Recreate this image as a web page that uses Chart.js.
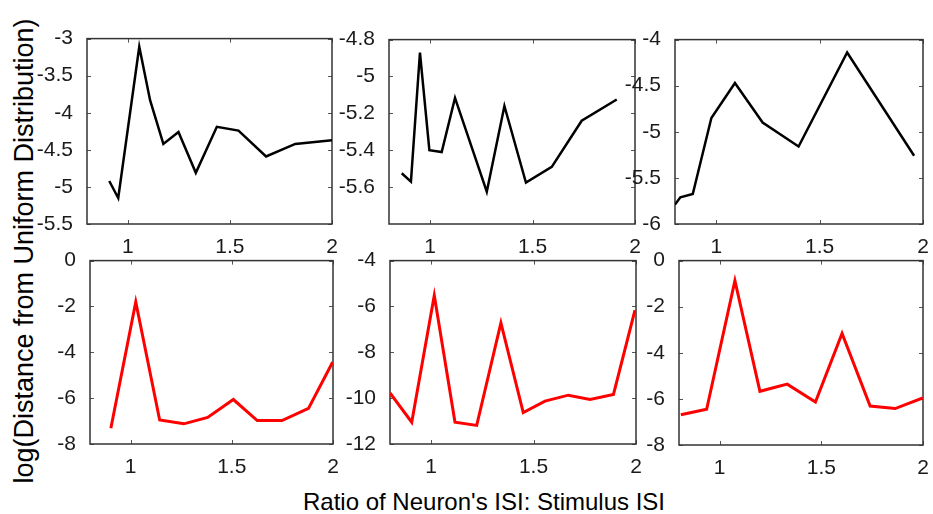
<!DOCTYPE html>
<html>
<head>
<meta charset="utf-8">
<script src="https://cdn.jsdelivr.net/npm/chart.js@4"></script>
<style>
  body { margin: 0; background: #fff; }
  #wrap { position: relative; width: 933px; height: 514px; overflow: hidden; font-family: 'Liberation Sans', Arial, sans-serif; }
  canvas { position: absolute; }
  .ylab { position: absolute; left: 24px; top: 251px; transform: translate(-50%, -50%) rotate(-90deg); font-size: 27px; white-space: nowrap; color: #000; }
  .xlab { position: absolute; left: 484px; top: 502px; transform: translate(-50%, -50%); font-size: 24px; white-space: nowrap; color: #000; }
</style>
</head>
<body>
<div id="wrap">
  <div class="ylab">log(Distance from Uniform Distribution)</div>
  <div class="xlab">Ratio of Neuron's ISI: Stimulus ISI</div>
</div>
<script>
// panel data
const xTicks = [1, 1.5, 2];

const x1 = [0.909, 0.953, 1.056, 1.109, 1.174, 1.248, 1.333, 1.436, 1.542, 1.677, 1.82, 2.0];
const y1 = [-4.92, -5.15, -3.11, -3.83, -4.42, -4.26, -4.81, -4.19, -4.24, -4.59, -4.42, -4.37];
const yTicks1 = [-5.5, -5, -4.5, -4, -3.5, -3];

const x2 = [0.862, 0.907, 0.951, 0.997, 1.057, 1.122, 1.277, 1.363, 1.468, 1.594, 1.74, 1.911];
const y2 = [-5.525, -5.57, -4.87, -5.40, -5.41, -5.116, -5.625, -5.16, -5.575, -5.49, -5.24, -5.125];
const yTicks2 = [-5.6, -5.4, -5.2, -5, -4.8];

const x3 = [0.8, 0.826, 0.886, 0.976, 1.09, 1.224, 1.398, 1.633, 1.957];
const y3 = [-5.79, -5.71, -5.675, -4.85, -4.47, -4.9, -5.16, -4.14, -5.26];
const yTicks3 = [-6, -5.5, -5, -4.5, -4];

const x4 = [0.903, 1.026, 1.144, 1.263, 1.381, 1.508, 1.626, 1.748, 1.879, 1.998];
const y4 = [-7.31, -1.80, -6.95, -7.12, -6.84, -6.06, -6.98, -6.98, -6.45, -4.43];
const yTicks4 = [-8, -6, -4, -2, 0];

const x5 = [0.8, 0.906, 1.016, 1.117, 1.223, 1.341, 1.45, 1.556, 1.67, 1.776, 1.89, 1.995];
const y5 = [-9.77, -11.05, -5.52, -11.05, -11.19, -6.72, -10.63, -10.13, -9.87, -10.06, -9.84, -6.16];
const yTicks5 = [-12, -10, -8, -6, -4];

const x6 = [0.809, 0.936, 1.075, 1.198, 1.332, 1.471, 1.602, 1.74, 1.863, 1.999];
const y6 = [-6.69, -6.45, -0.87, -5.67, -5.36, -6.14, -3.16, -6.31, -6.42, -5.96];
const yTicks6 = [-8, -6, -4, -2, 0];

const panels = [
  { xs: x1, ys: y1, yt: yTicks1, ymin: -5.5, ymax: -3,   color: '#000', width: 2.5, box: [87, 34, 332, 224] },
  { xs: x2, ys: y2, yt: yTicks2, ymin: -5.8, ymax: -4.8, color: '#000', width: 2.5, box: [389, 35, 635, 224] },
  { xs: x3, ys: y3, yt: yTicks3, ymin: -6,   ymax: -4,   color: '#000', width: 2.5, box: [675, 35, 923, 224] },
  { xs: x4, ys: y4, yt: yTicks4, ymin: -8,   ymax: 0,    color: '#ff0000', width: 3, box: [90, 256, 333, 444] },
  { xs: x5, ys: y5, yt: yTicks5, ymin: -12,  ymax: -4,   color: '#ff0000', width: 3, box: [390, 256, 636, 444] },
  { xs: x6, ys: y6, yt: yTicks6, ymin: -8,   ymax: 0,    color: '#ff0000', width: 3, box: [679, 256, 923, 445] }
];

const Y_W = 52, X_H = 36, PAD_T = 14, PAD_R = 10;

const boxPlugin = {
  id: 'matlabBox',
  beforeDatasetsDraw(chart) {
    const { ctx, chartArea: a } = chart;
    const xs = chart.scales.x, ys = chart.scales.y;
    ctx.save();
    ctx.strokeStyle = '#555';
    ctx.lineWidth = 1;
    xs.ticks.forEach(t => {
      const px = Math.round(xs.getPixelForValue(t.value)) + 0.5;
      ctx.beginPath();
      ctx.moveTo(px, a.bottom); ctx.lineTo(px, a.bottom - 4);
      ctx.moveTo(px, a.top); ctx.lineTo(px, a.top + 4);
      ctx.stroke();
    });
    ys.ticks.forEach(t => {
      const py = Math.round(ys.getPixelForValue(t.value)) + 0.5;
      ctx.beginPath();
      ctx.moveTo(a.left, py); ctx.lineTo(a.left + 4, py);
      ctx.moveTo(a.right, py); ctx.lineTo(a.right - 4, py);
      ctx.stroke();
    });
    ctx.strokeStyle = '#333';
    ctx.lineWidth = 1.5;
    ctx.strokeRect(a.left, a.top, a.right - a.left, a.bottom - a.top);
    ctx.restore();
  }
};

const fmt = v => String(Math.round(v * 10) / 10);
const wrap = document.getElementById('wrap');

panels.forEach(p => {
  const [l, t, r, b] = p.box;
  const c = document.createElement('canvas');
  const w = r - l + Y_W + PAD_R, h = b - t + PAD_T + X_H;
  c.width = w; c.height = h;
  c.style.left = (l - Y_W) + 'px';
  c.style.top = (t - PAD_T) + 'px';
  c.style.width = w + 'px'; c.style.height = h + 'px';
  wrap.appendChild(c);

  new Chart(c.getContext('2d'), {
    type: 'line',
    data: {
      datasets: [{
        data: p.xs.map((x, i) => ({ x: x, y: p.ys[i] })),
        borderColor: p.color,
        borderWidth: p.width,
        pointRadius: 0,
        tension: 0,
        fill: false
      }]
    },
    options: {
      responsive: false,
      animation: false,
      devicePixelRatio: 1,
      layout: { autoPadding: false, padding: { top: PAD_T, right: PAD_R, left: 0, bottom: 0 } },
      plugins: { legend: { display: false }, tooltip: { enabled: false } },
      scales: {
        x: {
          type: 'linear', min: 0.8, max: 2,
          grid: { display: false }, border: { display: false },
          afterBuildTicks: s => { s.ticks = xTicks.map(v => ({ value: v })); },
          afterFit: s => { s.height = X_H; },
          ticks: { color: '#1a1a1a', padding: 3, maxRotation: 0, autoSkip: false,
                   font: { family: "'Liberation Sans', Arial, sans-serif", size: 21 }, callback: fmt }
        },
        y: {
          type: 'linear', min: p.ymin, max: p.ymax,
          grid: { display: false }, border: { display: false },
          afterBuildTicks: s => { s.ticks = p.yt.map(v => ({ value: v })); },
          afterFit: s => { s.width = Y_W; },
          ticks: { color: '#1a1a1a', padding: 6, autoSkip: false,
                   font: { family: "'Liberation Sans', Arial, sans-serif", size: 21 }, callback: fmt }
        }
      }
    },
    plugins: [boxPlugin]
  });
});
</script>
</body>
</html>
